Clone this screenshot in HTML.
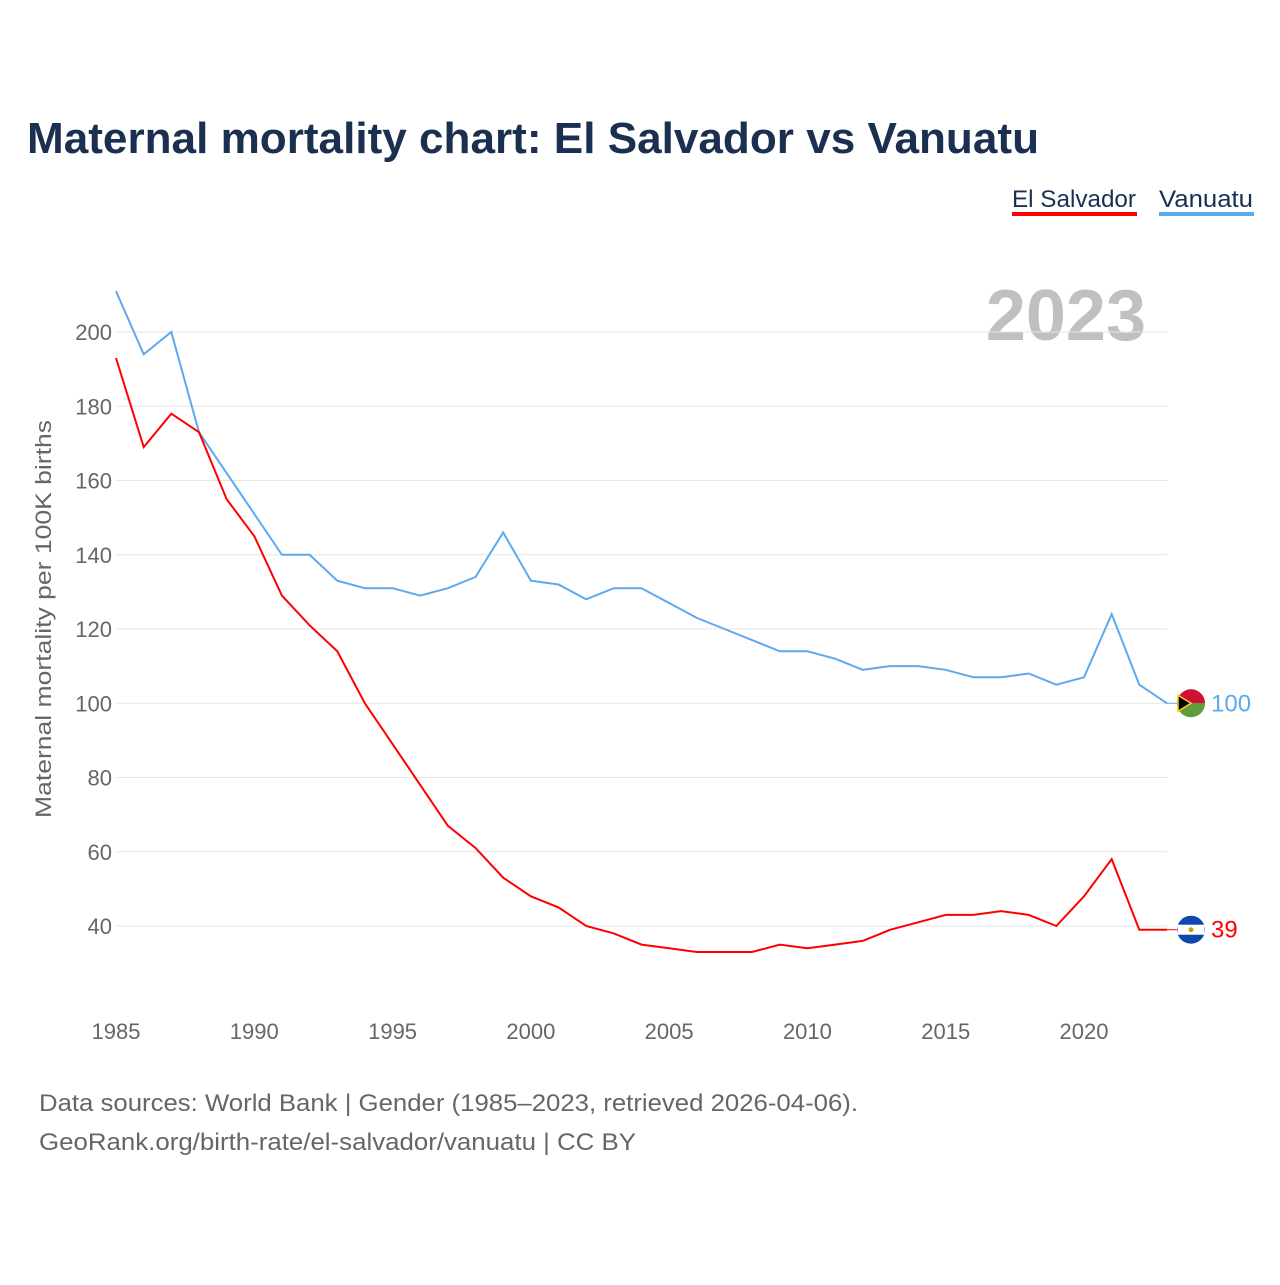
<!DOCTYPE html>
<html><head><meta charset="utf-8">
<style>
html,body{margin:0;padding:0;background:#fff;}
body{width:1280px;height:1280px;overflow:hidden;font-family:"Liberation Sans",sans-serif;}
</style></head>
<body>
<svg id="chart" width="1280" height="1280" xmlns="http://www.w3.org/2000/svg">
<text x="27" y="153" font-size="44" font-weight="bold" fill="#1b3050" textLength="1012" lengthAdjust="spacingAndGlyphs">Maternal mortality chart: El Salvador vs Vanuatu</text>
<g>
<g>
<text x="1012" y="207" font-size="24" fill="#1b3050" textLength="124" lengthAdjust="spacingAndGlyphs">El Salvador</text>
<rect x="1012" y="212" width="125" height="4" fill="#ff0000"/></g>
<g>
<text x="1159" y="207" font-size="24" fill="#1b3050" textLength="94" lengthAdjust="spacingAndGlyphs">Vanuatu</text>
<rect x="1159" y="212" width="95" height="4" fill="#5ea9ee"/></g>
</g>
<text x="1146" y="340" font-size="72" font-weight="bold" fill="#c0c0c0" text-anchor="end">2023</text>
<text transform="translate(51,619) rotate(-90)" font-size="22" fill="#666" text-anchor="middle" textLength="398" lengthAdjust="spacingAndGlyphs">Maternal mortality per 100K births</text>
<g id="grid"></g><g id="lines"></g>
<g>
<text x="39" y="1111" font-size="24" fill="#666" textLength="819" lengthAdjust="spacingAndGlyphs">Data sources: World Bank | Gender (1985–2023, retrieved 2026-04-06).</text>
<text x="39" y="1150" font-size="24" fill="#666" textLength="597" lengthAdjust="spacingAndGlyphs">GeoRank.org/birth-rate/el-salvador/vanuatu | CC BY</text>
</g>
</svg>
<script>
const years=[1985,1986,1987,1988,1989,1990,1991,1992,1993,1994,1995,1996,1997,1998,1999,2000,2001,2002,2003,2004,2005,2006,2007,2008,2009,2010,2011,2012,2013,2014,2015,2016,2017,2018,2019,2020,2021,2022,2023];
const vanuatu=[211,194,200,173,162,151,140,140,133,131,131,129,131,134,146,133,132,128,131,131,127,123,120,117,114,114,112,109,110,110,109,107,107,108,105,107,124,105,100];
const elSalvador=[193,169,178,173,155,145,129,121,114,100,89,78,67,61,53,48,45,40,38,35,34,33,33,33,35,34,35,36,39,41,43,43,44,43,40,48,58,39,39];
const yTicks=[40,60,80,100,120,140,160,180,200];
const xTicks=[1985,1990,1995,2000,2005,2010,2015,2020];
const NS="http://www.w3.org/2000/svg";
const xs=y=>116+(y-1985)*(1084-116)/35;
const ys=v=>926-(v-40)*(926-332)/160;
const grid=document.getElementById('grid'),lines=document.getElementById('lines');
function mk(tag,attrs,parent){const e=document.createElementNS(NS,tag);for(const k in attrs)e.setAttribute(k,attrs[k]);parent.appendChild(e);return e;}
yTicks.forEach(t=>{
 const l=mk('line',{x1:116,x2:1167,y1:ys(t),y2:ys(t),stroke:'#e6e6e6','stroke-width':1},grid);
 
 
 const tx=mk('text',{x:112,y:ys(t)+8,'font-size':22,fill:'#666','text-anchor':'end'},grid);
 tx.textContent=t;
 
 
});
xTicks.forEach(t=>{
 const tx=mk('text',{x:xs(t),y:1039,'font-size':22,fill:'#666','text-anchor':'middle'},grid);
 tx.textContent=t;
 
 
});
function series(vals,color,flagColor,name){
 const d=vals.map((v,i)=>(i?'L':'M')+xs(years[i]).toFixed(1)+' '+ys(v).toFixed(1)).join(' ');
 const p=mk('path',{d:d,fill:'none',stroke:color,'stroke-width':2},lines);
 
 
 const last=vals[vals.length-1],ly=ys(last);
 mk('line',{x1:xs(years[years.length-1]),x2:1180,y1:ly,y2:ly,stroke:color,'stroke-width':1},lines);
 const c=mk('circle',{cx:1191,cy:ly,r:14,fill:flagColor},lines);
 
 
 const t=mk('text',{x:1211,y:ly+8,'font-size':24,fill:color},lines);
 t.textContent=last;
 
 
 return ly;
}
const vy=series(vanuatu,'#5ea9ee','#5ea9ee','vanuatu');
const ey=series(elSalvador,'#ff0000','#0f47af','el-salvador');
mk('path',{d:`M1177 ${vy} A14 14 0 0 1 1205 ${vy} Z`,fill:'#d21034'},lines);
mk('path',{d:`M1177 ${vy} A14 14 0 0 0 1205 ${vy} Z`,fill:'#5f9e3a'},lines);
mk('path',{d:`M1178 ${vy-8} L1191 ${vy} L1178 ${vy+8} Z`,fill:'#000',stroke:'#fdce12','stroke-width':1.5},lines);
mk('rect',{x:1177.5,y:ey-5,width:27,height:10,fill:'#fff'},lines);
mk('circle',{cx:1191,cy:ey,r:2.5,fill:'#c8a600'},lines);
</script>
</body></html>
